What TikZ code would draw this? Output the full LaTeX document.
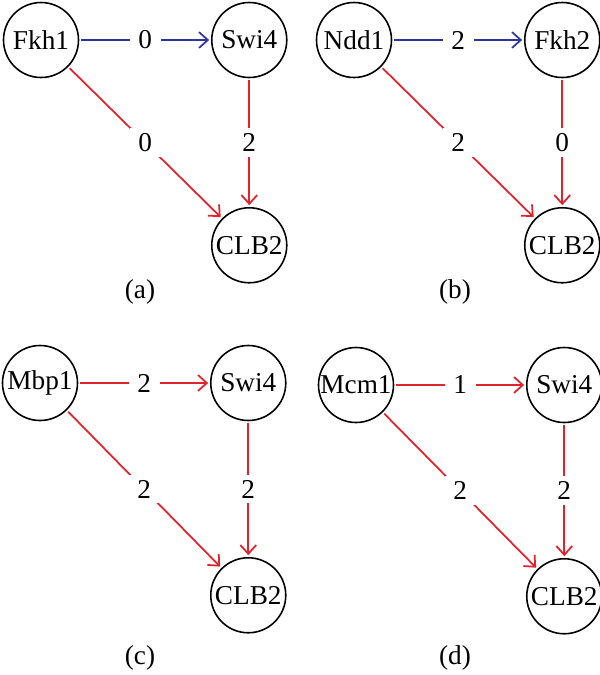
\documentclass[tikz,border=0pt]{standalone}
\usepackage{fontspec}
\setmainfont{Liberation Serif}
\definecolor{edgered}{RGB}{225,35,45}
\definecolor{edgeblue}{RGB}{45,55,150}
\usetikzlibrary{positioning, arrows.meta}

\begin{document}
\begin{tikzpicture}[
        node distance=2.5cm and 2.56cm,
        font=\fontsize{15.5}{18}\selectfont,
        gene/.style={circle, draw=black, line width=0.9pt, minimum size=1.5cm, inner sep=0pt, outer sep=1.5pt},
        act/.style={-{Straight Barb[length=5pt, width=9pt]}, draw=edgered, line width=1pt},
        rep/.style={-{Straight Barb[length=5pt, width=9pt]}, draw=edgeblue, line width=1pt},
        wt/.style={fill=white, inner xsep=5pt, inner ysep=3pt, text=black}
    ]
        \useasboundingbox (0,0) rectangle (12,-13.5);

        % (a)
        \node[gene] (FKH1) at (0.82,-0.80) {Fkh1};
        \node[gene, right=of FKH1] (SWI4A) {Swi4};
        \node[gene, below=of SWI4A] (CLB2A) {CLB2};
        \node (CAPA) at (2.8,-5.84) {(a)};

        % (b)
        \node[gene] (NDD1) at (7.08,-0.80) {Ndd1};
        \node[gene, right=of NDD1] (FKH2) {Fkh2};
        \node[gene, below=of FKH2] (CLB2B) {CLB2};
        \node (CAPB) at (9.1,-5.84) {(b)};

        % (c)
        \node[gene] (MBP1) at (0.80,-7.66) {Mbp1};
        \node[gene, right=of MBP1] (SWI4C) {Swi4};
        \node[gene, below=2.64cm of SWI4C] (CLB2C) {CLB2};
        \node (CAPC) at (2.8,-13.16) {(c)};

        % (d)
        \node[gene] (MCM1) at (7.12,-7.70) {Mcm1};
        \node[gene, right=of MCM1] (SWI4D) {Swi4};
        \node[gene, below=2.62cm of SWI4D] (CLB2D) {CLB2};
        \node (CAPD) at (9.1,-13.16) {(d)};

        % Arrows
        \draw[rep] (FKH1) -- node[wt] {0} (SWI4A);
        \draw[act] (FKH1) -- node[wt] {0} (CLB2A);
        \draw[act] (SWI4A) -- node[wt] {2} (CLB2A);

        \draw[rep] (NDD1) -- node[wt] {2} (FKH2);
        \draw[act] (NDD1) -- node[wt] {2} (CLB2B);
        \draw[act] (FKH2) -- node[wt] {0} (CLB2B);

        \draw[act] (MBP1) -- node[wt] {2} (SWI4C);
        \draw[act] (MBP1) -- node[wt] {2} (CLB2C);
        \draw[act] (SWI4C) -- node[wt] {2} (CLB2C);

        \draw[act] (MCM1) -- node[wt] {1} (SWI4D);
        \draw[act] (MCM1) -- node[wt] {2} (CLB2D);
        \draw[act] (SWI4D) -- node[wt] {2} (CLB2D);
    \end{tikzpicture}
\end{document}
